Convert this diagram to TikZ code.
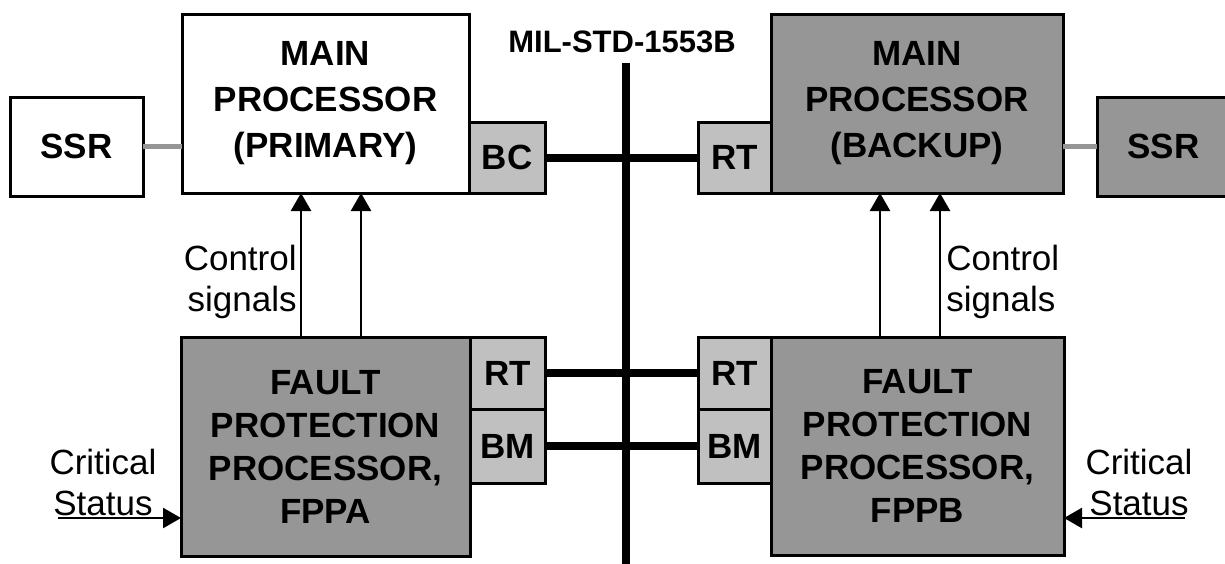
\documentclass[tikz,border=0pt]{standalone}
\usepackage{fontspec}
\setmainfont{Liberation Sans}
\usetikzlibrary{arrows.meta,calc}
\definecolor{darkfill}{RGB}{150,150,150}
\definecolor{lightfill}{RGB}{192,192,192}
\definecolor{linkgray}{RGB}{150,150,150}
\begin{document}
\begin{tikzpicture}[x=0.5pt,y=-0.5pt,
  blk/.style={draw=black, line width=1.5pt, inner sep=0pt, outer sep=0pt,
    font=\bfseries\fontsize{17.5}{23}\selectfont, align=center},
  sz/.style 2 args={minimum width=#1*0.5pt, minimum height=#2*0.5pt},
  darkbox/.style={blk, fill=darkfill},
  lightbox/.style={blk, fill=lightfill},
  whitebox/.style={blk, fill=white},
  lbl/.style={font=\fontsize{17.5}{20.5}\selectfont, inner sep=0pt},
  bus/.style={line width=4pt},
  ssrlink/.style={draw=linkgray, line width=2.5pt},
  ctl/.style={line width=1.3pt, -{Triangle[length=9pt,width=10pt]}}
]
\useasboundingbox (0,0) rectangle (1225,563);

% bus backbone
\coordinate (busTop) at (626,63);
\coordinate (busBot) at (626,575);
\draw[bus] (busTop) -- (busBot);
\node[font=\bfseries\fontsize{15.5}{18}\selectfont, inner sep=0pt] (buslbl) at (622,42) {MIL-STD-1553B};

% top row
\node[whitebox, sz={133}{99}] (ssrL) at (76.5,146.5) {SSR};
\node[whitebox, sz={287}{179}] (mainP) at (325.5,103.5) {MAIN\\PROCESSOR\\(PRIMARY)};
\node[lightbox, sz={76}{71}] (bc) at (507,157.5) {BC};
\node[darkbox, sz={292}{179}] (mainB) at (917,103.5) {MAIN\\PROCESSOR\\(BACKUP)};
\node[lightbox, sz={73}{71}] (rtT) at (734.5,157.5) {RT};
\node[darkbox, sz={133}{99}] (ssrR) at (1163.5,146.5) {SSR};

% bottom row
\node[darkbox, sz={289}{219}, font=\bfseries\fontsize{17.5}{21.5}\selectfont] (fppa) at (325.5,446.5) {FAULT\\PROTECTION\\PROCESSOR,\\FPPA};
\node[lightbox, sz={75}{72}] (rtA) at (507.5,373) {RT};
\node[lightbox, sz={75}{74}] (bmA) at (507.5,446) {BM};
\node[darkbox, sz={293}{218}, font=\bfseries\fontsize{17.5}{21.5}\selectfont] (fppb) at (917.5,446) {FAULT\\PROTECTION\\PROCESSOR,\\FPPB};
\node[lightbox, sz={73}{72}] (rtB) at (734.5,373) {RT};
\node[lightbox, sz={73}{74}] (bmB) at (734.5,446) {BM};

% bus stubs
\draw[bus] (bc.east) -- (rtT.west);
\draw[bus] (rtA.east) -- (rtB.west);
\draw[bus] (bmA.east) -- (bmB.west);

% SSR links
\draw[ssrlink] (ssrL.east) -- (ssrL.east -| mainP.west);
\draw[ssrlink] (ssrR.west -| mainB.east) -- (ssrR.west);

% control signals
\coordinate (a1) at (301,0);
\coordinate (a2) at (361,0);
\coordinate (a3) at (880,0);
\coordinate (a4) at (940,0);
\draw[ctl] (a1 |- fppa.north) -- (a1 |- mainP.south);
\draw[ctl] (a2 |- fppa.north) -- (a2 |- mainP.south);
\draw[ctl] (a3 |- fppb.north) -- (a3 |- mainB.south);
\draw[ctl] (a4 |- fppb.north) -- (a4 |- mainB.south);
\node[lbl, anchor=east, align=right] (ctlA) at (297,282) {Control\\signals};
\node[lbl, anchor=west, align=left] (ctlB) at (946,282) {Control\\signals};

% critical status
\coordinate (cs1) at (58,518);
\coordinate (cs2) at (1185,518);
\draw[ctl] (cs1) -- (cs1 -| fppa.west);
\draw[ctl] (cs2) -- (cs2 -| fppb.east);
\node[lbl, align=center] (csA) at (103,482) {Critical\\Status};
\node[lbl, align=center] (csB) at (1139,482) {Critical\\Status};
\end{tikzpicture}
\end{document}
